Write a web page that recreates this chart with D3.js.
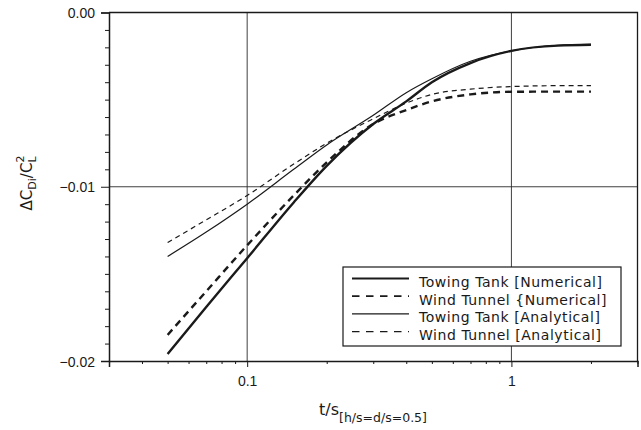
<!DOCTYPE html>
<html>
<head>
<meta charset="utf-8">
<script src="https://cdnjs.cloudflare.com/ajax/libs/d3/7.8.5/d3.min.js"></script>
<style>
body { margin: 0; background: #fff; }
svg { display: block; font-family: "DejaVu Sans", sans-serif; }
.axis path, .axis line { stroke: #1a1a1a; }
.axis text { fill: #1a1a1a; font-size: 14px; }
</style>
</head>
<body>
<script>
var tValues = [0.05, 0.07, 0.1, 0.15, 0.2, 0.3, 0.4, 0.5, 0.7, 1, 1.5, 2];

var towingNumerical  = [-0.0196, -0.0169, -0.0141, -0.0109, -0.0088, -0.0064, -0.0051, -0.0040, -0.0029, -0.0022, -0.0019, -0.00186];
var windNumerical    = [-0.0185, -0.0160, -0.01336, -0.0105, -0.0086, -0.0064, -0.0056, -0.0051, -0.0047, -0.00455, -0.00454, -0.00454];
var towingAnalytical = [-0.0140, -0.0126, -0.0110, -0.0090, -0.0076, -0.0059, -0.0046, -0.0038, -0.0028, -0.0022, -0.00188, -0.00182];
var windAnalytical   = [-0.0132, -0.0119, -0.0105, -0.0087, -0.0075, -0.0061, -0.0052, -0.0047, -0.0044, -0.00425, -0.0042, -0.0042];

var legendLabels = ["Towing Tank [Numerical]", "Wind Tunnel {Numerical]", "Towing Tank [Analytical]", "Wind Tunnel [Analytical]"];

var xMajorTicks = [0.1, 1];
var xMinorTicks = [0.04, 0.05, 0.06, 0.07, 0.08, 0.09, 0.2, 0.3, 0.4, 0.5, 0.6, 0.7, 0.8, 0.9, 2, 3];
var yMajorTicks = [0, -0.01, -0.02];
var yMinorTicks = [-0.001, -0.002, -0.003, -0.004, -0.005, -0.006, -0.007, -0.008, -0.009,
                   -0.011, -0.012, -0.013, -0.014, -0.015, -0.016, -0.017, -0.018, -0.019];

var width = 641, height = 430;
var margin = {top: 12.5, right: 3.5, bottom: 69, left: 109};
var innerW = width - margin.left - margin.right;
var innerH = height - margin.top - margin.bottom;

var svg = d3.select("body").append("svg")
    .attr("width", width)
    .attr("height", height);

var g = svg.append("g")
    .attr("transform", "translate(" + margin.left + "," + margin.top + ")");

var x = d3.scaleLog().domain([0.03, 3]).range([0, innerW]);
var y = d3.scaleLinear().domain([-0.02, 0]).range([innerH, 0]);

// grid lines
g.selectAll(".vgrid").data(xMajorTicks).enter().append("line")
    .attr("x1", function(d) { return x(d); })
    .attr("x2", function(d) { return x(d); })
    .attr("y1", 0).attr("y2", innerH)
    .style("stroke", "#2a2a2a").style("stroke-width", 0.9);
g.append("line")
    .attr("x1", 0).attr("x2", innerW)
    .attr("y1", y(-0.01)).attr("y2", y(-0.01))
    .style("stroke", "#2a2a2a").style("stroke-width", 0.9);

// frame (top + right)
g.append("path")
    .attr("d", "M0," + y(0) + "H" + innerW + "V" + innerH)
    .style("fill", "none").style("stroke", "#1a1a1a").style("stroke-width", 1.3);

// axes
var xAxis = g.append("g").attr("class", "axis")
    .attr("transform", "translate(0," + innerH + ")")
    .call(d3.axisBottom(x).tickValues(xMajorTicks).tickSize(6).tickPadding(9)
        .tickFormat(function(d) { return d === 1 ? "1" : "0.1"; }));
xAxis.select(".domain").style("stroke-width", 1.5);
g.append("g").attr("class", "axis")
    .attr("transform", "translate(0," + innerH + ")")
    .call(d3.axisBottom(x).tickValues(xMinorTicks).tickSize(3).tickFormat(""))
    .select(".domain").remove();

var yAxis = g.append("g").attr("class", "axis")
    .call(d3.axisLeft(y).tickValues(yMajorTicks).tickSize(8).tickPadding(6)
        .tickFormat(d3.format(".2f")));
yAxis.select(".domain").style("stroke-width", 1.5);
yAxis.selectAll(".tick text").attr("dy", "0.36em");
g.append("g").attr("class", "axis")
    .call(d3.axisLeft(y).tickValues(yMinorTicks).tickSize(4).tickFormat(""))
    .select(".domain").remove();

// curves
var series = [
    {values: towingNumerical,  width: 2.4, dash: null},
    {values: windNumerical,    width: 2.4, dash: "7,5"},
    {values: towingAnalytical, width: 1.2, dash: null},
    {values: windAnalytical,   width: 1.2, dash: "5,4"}
];

var line = d3.line()
    .x(function(d) { return x(d[0]); })
    .y(function(d) { return y(d[1]); })
    .curve(d3.curveMonotoneX);

series.forEach(function(s) {
    g.append("path")
        .datum(d3.zip(tValues, s.values))
        .attr("d", line)
        .style("fill", "none")
        .style("stroke", "#1a1a1a")
        .style("stroke-width", s.width)
        .style("stroke-dasharray", s.dash);
});

// legend
var legend = svg.append("g").attr("transform", "translate(343,267)");
legend.append("rect")
    .attr("width", 278).attr("height", 79)
    .style("fill", "#fff").style("stroke", "#1a1a1a").style("stroke-width", 1.2);
series.forEach(function(s, i) {
    var row = legend.append("g").attr("transform", "translate(0," + (11.5 + i * 17.7) + ")");
    row.append("line")
        .attr("x1", 9).attr("x2", 66)
        .style("stroke", "#1a1a1a")
        .style("stroke-width", s.width === 2.4 ? 1.8 : 1.1)
        .style("stroke-dasharray", s.dash ? "7.5,6.5" : null);
    row.append("text")
        .attr("x", 76).attr("y", 8.5)
        .style("font-size", "14px").style("letter-spacing", "0.55px")
        .style("fill", "#1a1a1a")
        .text(legendLabels[i]);
});

// y label
var ylab = svg.append("text")
    .attr("transform", "translate(32,183) rotate(-90)")
    .attr("text-anchor", "middle")
    .style("font-size", "15px").style("fill", "#1a1a1a");
ylab.append("tspan").text("\u0394C");
ylab.append("tspan").attr("dy", 4).style("font-size", "11px").text("Di");
ylab.append("tspan").attr("dy", -4).text("/C");
ylab.append("tspan").attr("dy", -8).style("font-size", "11px").text("2");
ylab.append("tspan").attr("dx", -7).attr("dy", 12).style("font-size", "11px").text("L");

// x label
var xlab = svg.append("text")
    .attr("x", 373).attr("y", 415)
    .attr("text-anchor", "middle")
    .style("font-size", "16px").style("fill", "#1a1a1a");
xlab.append("tspan").text("t/s");
xlab.append("tspan").attr("dy", 7).style("font-size", "12.5px").text("[h/s=d/s=0.5]");
</script>
</body>
</html>
